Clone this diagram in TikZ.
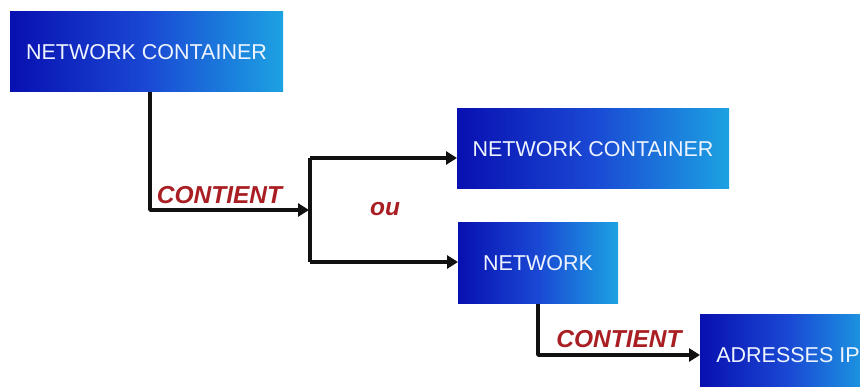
\documentclass[tikz,border=0pt]{standalone}
\usepackage{fontspec}
\setmainfont{Liberation Sans}
\usetikzlibrary{arrows.meta,calc}
\definecolor{boxleft}{HTML}{0810B0}
\definecolor{boxmid}{HTML}{1A48D4}
\definecolor{boxright}{HTML}{1CA2E2}
\definecolor{boxtext}{HTML}{EEF4FF}
\definecolor{labelred}{HTML}{A81E22}
\definecolor{linecol}{HTML}{111111}
\tikzset{
  bluebox/.style={rectangle, inner sep=0pt, outer sep=0pt,
    left color=boxleft, right color=boxright, middle color=boxmid,
    text=boxtext, font=\fontsize{21.5}{25}\selectfont},
  link/.style={draw=linecol, line width=3.6pt, line join=round,
    -{Triangle[length=11pt,width=13pt]}},
  plainlink/.style={draw=linecol, line width=3.6pt, line join=round},
  rel/.style={text=labelred, font=\fontsize{24.5}{28}\selectfont\bfseries\itshape}
}
\begin{document}
\begin{tikzpicture}[x=1pt,y=-1pt]
  \useasboundingbox (0,0) rectangle (860,387);
  \clip (0,0) rectangle (860,387);

  % boxes
  \node[bluebox, minimum width=273pt, minimum height=80pt] (nc1) at (146.5,52) {NETWORK CONTAINER};
  \node[bluebox, minimum width=272pt, minimum height=80pt] (nc2) at (593,149) {NETWORK CONTAINER};
  \node[bluebox, minimum width=160pt, minimum height=81pt] (net) at (538,263.5) {NETWORK};
  \node[bluebox, minimum width=176pt, minimum height=80pt] (ip) at (788,355) {ADRESSES IP};

  % junction points of the branching connector
  \coordinate (split) at (310,210);
  \coordinate (splittop) at (310,158);
  \coordinate (splitbot) at (310,262);

  % network container -> choice
  \draw[link] ($(nc1.south)+(3.5,0)$) |- ($(split)+(-1,0)$);
  \draw[plainlink] (splittop) -- (splitbot);
  \draw[link] (splittop) -- (splittop -| nc2.west);
  \draw[link] (splitbot) -- (splitbot -| net.west);

  % network -> ip addresses
  \draw[link] (net.south) |- (ip.west);

  % labels
  \node[rel] (c1) at (219.5,195) {CONTIENT};
  \node[rel] (ou) at (385,209) {ou};
  \node[rel] (c2) at (619,339) {CONTIENT};
\end{tikzpicture}
\end{document}
